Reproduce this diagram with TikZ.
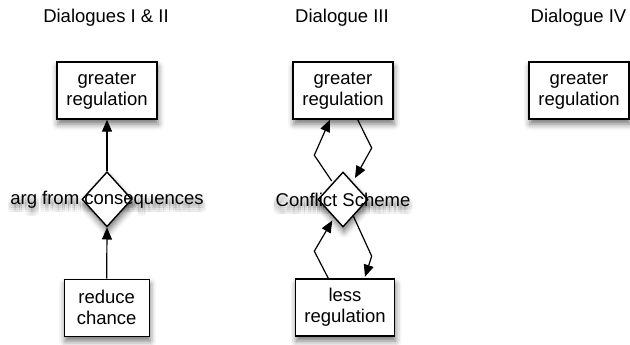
\documentclass[tikz,border=0pt]{standalone}
\usepackage{fontspec}
\setmainfont{Liberation Sans}
\usetikzlibrary{shapes.geometric,arrows.meta,calc,shadows.blur}
\begin{document}
\begin{tikzpicture}[x=1pt,y=-1pt,
  every node/.style={font=\fontsize{18.5}{21}\selectfont},
  shd/.style={blur shadow={shadow xshift=1pt,shadow yshift=-5pt,shadow blur radius=6pt,shadow opacity=55}},
  box/.style={draw,line width=1.4pt,fill=white,minimum width=100pt,minimum height=57pt,align=center,inner sep=2pt,shd},
  dia/.style={diamond,draw,line width=1.4pt,fill=white,minimum width=50pt,minimum height=55pt,inner sep=0pt,shd},
  arr/.style={line width=1.2pt,line join=miter,-{Triangle[length=12pt,width=10pt]}},
  ttl/.style={anchor=base},
  tsh/.style={text=black,opacity=0.045}
]
\useasboundingbox (0,0) rectangle (630,345);

% titles
\node[ttl] (t1) at (106,22.5) {Dialogues I \& II};
\node[ttl] (t2) at (342,22.5) {Dialogue III};
\node[ttl] (t3) at (578.5,22.5) {Dialogue IV};

% soft text shadows of the diamond labels
\foreach \dx in {-3,-1,1,3}{
  \foreach \dy in {2,4,6,8}{
    \node[tsh] (sa\dx\dy) at (107+\dx,200+\dy) {arg from consequences};
    \node[tsh] (sb\dx\dy) at (343+\dx,200+\dy) {Conflict Scheme};
  }
}

% Dialogues I & II
\node[box] (b1) at (107,90.5) {greater\\regulation};
\node[dia] (d1) at (107,199.3) {};
\node[box,minimum width=85pt] (r1) at (106.7,307.7) {reduce\\chance};
\node (l1) at (107,200) {arg from consequences};
\draw[arr] (r1.north) -- (d1.south);
\draw[arr] (d1.north) -- (b1.south);

% Dialogue III
\node[box] (b2) at (343,90.5) {greater\\regulation};
\node[dia] (d2) at (343,199.5) {};
\node[box,minimum width=99pt] (l2) at (345,307.5) {less\\regulation};
\node (c2) at (343,200) {Conflict Scheme};
\draw[arr] ($(d2.center)+(-11.3,-18.5)$) -- ($(d2.center)+(-28.7,-44.3)$) -- ($(b2.south)+(-13,0)$);
\draw[arr] ($(b2.south)+(14.7,0)$) -- ($(d2.center)+(28.7,-51.5)$) -- ($(d2.center)+(12,-21.5)$);
\draw[arr] ($(l2.north)+(-16.7,0)$) -- ($(d2.center)+(-28.7,51.7)$) -- ($(d2.center)+(-10.7,21)$);
\draw[arr] ($(d2.center)+(10.3,16.5)$) -- ($(d2.center)+(28.7,56.7)$) -- ($(l2.north)+(20,-1.5)$);

% Dialogue IV
\node[box] (b3) at (579,90.5) {greater\\regulation};
\end{tikzpicture}
\end{document}
